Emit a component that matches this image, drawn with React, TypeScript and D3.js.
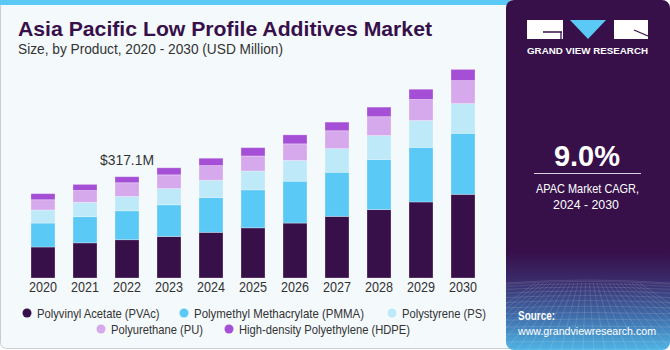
import React from 'react';
import * as d3 from 'd3';

const years = ['2020', '2021', '2022', '2023', '2024', '2025', '2026', '2027', '2028', '2029', '2030'];
const seriesNames = [
  'Polyvinyl Acetate (PVAc)',
  'Polymethyl Methacrylate (PMMA)',
  'Polystyrene (PS)',
  'Polyurethane (PU)',
  'High-density Polyethylene (HDPE)',
];
const pvac = [97, 110, 119.8, 130, 143, 157, 172, 193, 214, 238, 262];
const pmma = [75, 82, 90.6, 99, 109, 119, 131, 138, 157, 171, 191];
const ps = [41, 45, 44.9, 51, 54, 59, 65, 74, 75, 84, 93];
const pu = [32, 37, 42.9, 43, 46, 47, 52, 56, 59, 66, 72];
const hdpe = [19, 19, 18.9, 22, 23, 26, 28, 27, 30, 32, 35];
const colors = ['#37104a', '#5bc9f5', '#bde9f9', '#d6a9ec', '#a54fd6'];
const annotation = { year: '2022', label: '$317.1M' };

const W = 670;
const H = 350;
const FONT = '"Liberation Sans", Arial, sans-serif';

// squeeze Arial-metric text to the narrower widths of the original face
const Squeezed: React.FC<{ w: number } & React.SVGProps<SVGTextElement>> = ({ w, children, ...rest }) => (
  <text textLength={w} lengthAdjust="spacingAndGlyphs" {...rest}>{children}</text>
);

const legendLayout = [
  { row: 0, x: 27, w: 122.5 },
  { row: 0, x: 184, w: 170 },
  { row: 0, x: 392, w: 84 },
  { row: 1, x: 101, w: 92 },
  { row: 1, x: 229, w: 171 },
];

const App: React.FC = () => {
  const table = years.map((y, i) => ({
    year: y,
    [seriesNames[0]]: pvac[i],
    [seriesNames[1]]: pmma[i],
    [seriesNames[2]]: ps[i],
    [seriesNames[3]]: pu[i],
    [seriesNames[4]]: hdpe[i],
  })) as any[];

  const stacked = d3.stack<any>().keys(seriesNames)(table);

  const x = d3.scaleBand<string>()
    .domain(years)
    .range([22, 484])
    .paddingInner(0.4286)
    .paddingOuter(0.2143);

  const y = d3.scaleLinear().domain([0, 700]).range([278, 54.4]);

  const color = d3.scaleOrdinal<string, string>().domain(seriesNames).range(colors);

  const annIdx = years.indexOf(annotation.year);
  const annTop = stacked[stacked.length - 1][annIdx][1];

  // perspective grid for the bottom of the side panel
  const gridLines: string[] = [];
  for (let k = 0; k < 14; k++) {
    const yy = 283 + Math.pow(k / 13, 1.6) * 67;
    gridLines.push(`M506,${yy} Q587,${yy - 6 + k * 0.4} 670,${yy}`);
  }
  for (let k = -6; k < 22; k++) {
    const xb = 506 + k * 11;
    gridLines.push(`M${587 + (xb - 587) * 0.35},283 L${xb},350`);
  }

  return (
    <svg width={W} height={H} style={{ position: 'absolute', left: 0, top: 0, display: 'block' }} fontFamily={FONT}>
      <defs>
        <linearGradient id="side" x1="0" y1="0" x2="0" y2="1">
          <stop offset="0" stopColor="#37104a" />
          <stop offset="0.72" stopColor="#37104a" />
          <stop offset="0.8" stopColor="#3a2a6a" />
          <stop offset="0.9" stopColor="#3f6aa8" />
          <stop offset="1" stopColor="#4fb4e4" />
        </linearGradient>
        <clipPath id="sideClip">
          <rect x={506} y={0} width={164} height={350} rx={8} />
        </clipPath>
      </defs>

      {/* left panel */}
      <rect x={0.5} y={0.5} width={515} height={348} rx={6} fill="#f4f9fc" stroke="#c9ccd0" />
      <rect x={0} y={0} width={510} height={5} fill="#5bc9f5" />

      {/* titles */}
      <Squeezed w={414} x={18} y={36} fontSize={21} fontWeight="bold" fill="#37104a">
        Asia Pacific Low Profile Additives Market
      </Squeezed>
      <Squeezed w={265} x={18} y={54} fontSize={14.5} fill="#333">
        Size, by Product, 2020 - 2030 (USD Million)
      </Squeezed>

      {/* bars */}
      {stacked.map((layer) => (
        <g key={layer.key} fill={color(layer.key)}>
          {layer.map((d) => (
            <rect
              key={d.data.year}
              x={x(d.data.year)}
              y={y(d[1])}
              width={x.bandwidth()}
              height={y(d[0]) - y(d[1])}
              stroke="#ffffff"
              strokeOpacity={0.35}
              strokeWidth={0.8}
            />
          ))}
        </g>
      ))}

      {/* annotation */}
      <Squeezed
        w={54}
        x={(x(annotation.year) ?? 0) + x.bandwidth() / 2 - 27}
        y={y(annTop) - 12}
        fontSize={15}
        fill="#333"
      >
        {annotation.label}
      </Squeezed>

      {/* x axis labels */}
      {years.map((yr) => (
        <Squeezed key={yr} w={28} x={(x(yr) ?? 0) + x.bandwidth() / 2 - 14} y={292} fontSize={14} fill="#333">
          {yr}
        </Squeezed>
      ))}

      {/* legend */}
      {legendLayout.map((item, i) => (
        <g key={i} transform={`translate(${item.x},${313 + item.row * 16})`}>
          <circle r={4.5} fill={colors[i]} />
          <Squeezed w={item.w} x={10} y={4.5} fontSize={13} fill="#333">{seriesNames[i]}</Squeezed>
        </g>
      ))}

      {/* side panel */}
      <g clipPath="url(#sideClip)">
        <rect x={506} y={0} width={164} height={350} fill="url(#side)" />
        <g stroke="#ffffff" strokeOpacity={0.18} strokeWidth={0.7} fill="none">
          {gridLines.map((p, i) => <path key={i} d={p} />)}
        </g>
      </g>

      {/* logo */}
      <g>
        <rect x={527} y={20} width={36} height={19} fill="#ffffff" />
        <path d="M543,32 L562,32 M561,32 L561,39" stroke="#37104a" strokeWidth={1.3} fill="none" />
        <path d="M570,20 L606,20 L588,39 Z" fill="#5bc9f5" />
        <rect x={614} y={20} width={34} height={19} fill="#ffffff" />
        <path d="M634,30 L648,36" stroke="#37104a" strokeWidth={1.3} fill="none" />
        <Squeezed w={121} x={527} y={54} fontSize={9} fontWeight="bold" fill="#ffffff">
          GRAND VIEW RESEARCH
        </Squeezed>
      </g>

      <text x={587} y={166} fontSize={29} fontWeight="bold" fill="#ffffff" textAnchor="middle">9.0%</text>
      <line x1={534} x2={641} y1={173.5} y2={173.5} stroke="#ffffff" strokeOpacity={0.8} />
      <Squeezed w={103} x={536} y={193} fontSize={13.5} fill="#ffffff">APAC Market CAGR,</Squeezed>
      <Squeezed w={66} x={553} y={209} fontSize={13.5} fill="#ffffff">2024 - 2030</Squeezed>

      <Squeezed w={37} x={518} y={320} fontSize={13} fontWeight="bold" fill="#ffffff">Source:</Squeezed>
      <Squeezed w={138} x={518} y={335} fontSize={11.5} fill="#ffffff">www.grandviewresearch.com</Squeezed>
    </svg>
  );
};

export default App;
